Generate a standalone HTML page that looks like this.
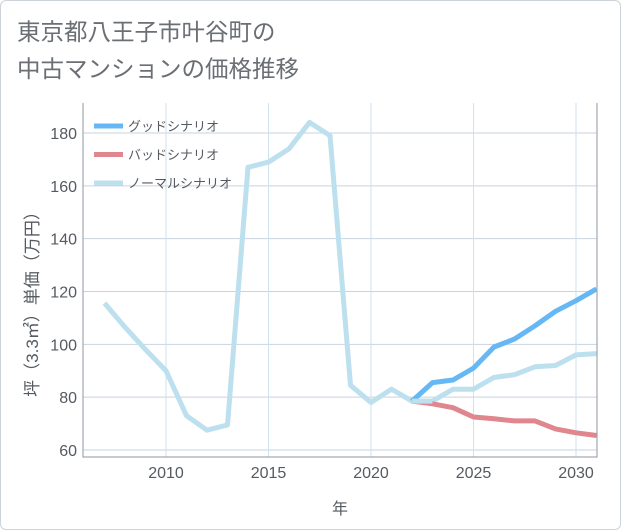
<!DOCTYPE html>
<html><head><meta charset="utf-8">
<style>
html,body{margin:0;padding:0;background:#fff;}
body{width:621px;height:530px;overflow:hidden;font-family:"Liberation Sans","Noto Sans CJK JP",sans-serif;}
#frame{position:absolute;left:0;top:0;width:619px;height:528px;border:1px solid #ccd3db;border-radius:6px;}
#title{position:absolute;left:17px;top:14px;font-size:23.5px;line-height:37px;color:#6b6f74;font-family:"Liberation Sans","Noto Sans CJK JP",sans-serif;}
svg{position:absolute;left:0;top:0;}
</style></head><body>
<div id="frame"></div>
<div id="title">東京都八王子市叶谷町の<br>中古マンションの価格推移</div>
<svg id="chart" width="621" height="530"></svg>
<script>
const years=[2007,2008,2009,2010,2011,2012,2013,2014,2015,2016,2017,2018,2019,2020,2021,2022,2023,2024,2025,2026,2027,2028,2029,2030,2031];
const normalValues=[115.6,106.5,98,90,73,67.5,69.5,167,169,174,184,179,84.5,78,83,78.5,78.5,83,83,87.5,88.5,91.5,92,96,96.5];
const goodYears=[2022,2023,2024,2025,2026,2027,2028,2029,2030,2031];
const goodValues=[78.5,85.5,86.5,91,99,102,107,112.5,116.5,121];
const badValues=[78.5,77.5,76,72.5,71.8,71,71,68,66.5,65.5];
const xTicks=[2010,2015,2020,2025,2030];
const yTicks=[60,80,100,120,140,160,180];
const legendLabels=["グッドシナリオ","バッドシナリオ","ノーマルシナリオ"];

const svg=document.getElementById('chart');
const NS='http://www.w3.org/2000/svg';
const L=83,R=597,T=103,B=457;
function xs(y){return 166+(y-2010)*20.5;}
function ys(v){return 450-(v-60)*2.6417;}
function mk(tag,attrs){const e=document.createElementNS(NS,tag);for(const k in attrs)e.setAttribute(k,attrs[k]);svg.appendChild(e);return e;}

yTicks.forEach(v=>{
  const g=mk('line',{x1:L,x2:R,y1:ys(v),y2:ys(v),stroke:'#c9d3df','stroke-width':1});
  
  
  const t=mk('text',{x:L-6,y:ys(v)+6,'text-anchor':'end','font-size':16,fill:'#555a60'});
  t.textContent=v;
  
  
});
xTicks.forEach(v=>{
  const g=mk('line',{x1:xs(v),x2:xs(v),y1:T,y2:B,stroke:'#cfe2ef','stroke-width':1});
  
  
  const t=mk('text',{x:xs(v),y:B+21,'text-anchor':'middle','font-size':16,fill:'#555a60'});
  t.textContent=v;
  
  
});
const ax=mk('path',{d:`M${L},${T} V${B} H${R} V${T}`,fill:'none',stroke:'#8f969e','stroke-width':1});



function line(xv,yv,color,name){
  const d=xv.map((x,i)=>(i?'L':'M')+xs(x).toFixed(1)+','+ys(yv[i]).toFixed(1)).join(' ');
  const p=mk('path',{d:d,fill:'none',stroke:color,'stroke-width':5,'stroke-linejoin':'round'});
  
  
}
line(years,normalValues,'#bde0ee','normal-scenario-line');
line(goodYears,badValues,'#e0868e','bad-scenario-line');
line(goodYears,goodValues,'#66b8f5','good-scenario-line');
line(years.slice(15,17),normalValues.slice(15,17),'#bde0ee','normal-scenario-overlap');

const colors=['#66b8f5','#e0868e','#bde0ee'];
legendLabels.forEach((lab,i)=>{
  const y=126+i*28.5;
  const r=mk('line',{x1:94,x2:123,y1:y,y2:y,stroke:colors[i],'stroke-width':5});
  
  
  const t=mk('text',{x:128,y:y+5,'font-size':13,fill:'#555a60'});
  t.textContent=lab;
  
  
});
const xt=mk('text',{x:340,y:514,'text-anchor':'middle','font-size':16,fill:'#555a60'});
xt.textContent='年';


const yt=mk('text',{x:0,y:0,'text-anchor':'middle','font-size':17,fill:'#555a60',transform:'translate(38,300) rotate(-90)'});
yt.textContent='坪（3.3㎡）単価（万円）';


</script>
</body></html>
